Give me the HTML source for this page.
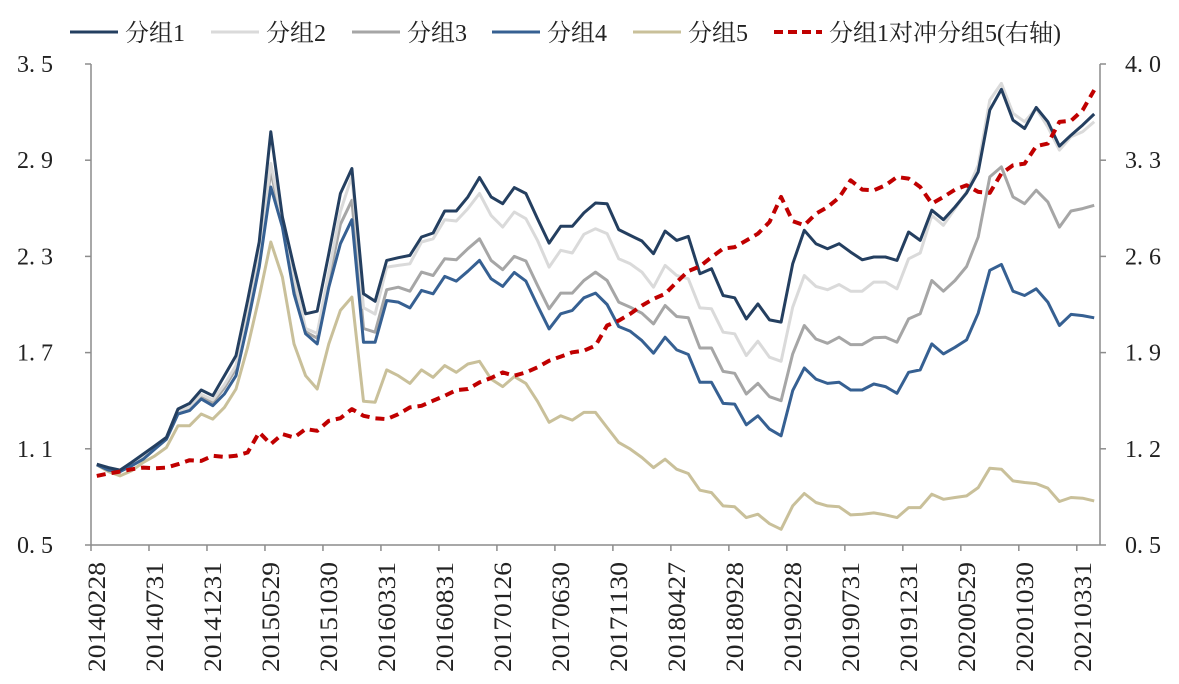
<!DOCTYPE html>
<html><head><meta charset="utf-8">
<style>
html,body{margin:0;padding:0;background:#fff;}
svg{display:block;font-family:"Liberation Serif","Noto Serif CJK SC",serif;}
</style></head>
<body>
<svg id="chart" width="1179" height="684" viewBox="0 0 1179 684" xmlns="http://www.w3.org/2000/svg">
<g id="legend"></g>
<g id="axes"></g>
<g id="series"></g>
</svg>
<script>
const dates=["20140228","20140731","20141231","20150529","20151030","20160331","20160831","20170126","20170630","20171130","20180427","20180928","20190228","20190731","20191231","20200529","20201030","20210331"];
const leftTicks=[0.5,1.1,1.7,2.3,2.9,3.5];
const leftTickLabels=["0. 5","1. 1","1. 7","2. 3","2. 9","3. 5"];
const rightTicks=[0.5,1.2,1.9,2.6,3.3,4.0];
const rightTickLabels=["0. 5","1. 2","1. 9","2. 6","3. 3","4. 0"];
const seriesNames=["分组1","分组2","分组3","分组4","分组5","分组1对冲分组5(右轴)"];
const group1=[1.004,0.983,0.967,1.015,1.067,1.119,1.171,1.348,1.383,1.467,1.431,1.556,1.681,2.025,2.39,3.077,2.546,2.233,1.942,1.958,2.317,2.692,2.848,2.067,2.02,2.275,2.292,2.306,2.421,2.446,2.583,2.583,2.671,2.792,2.671,2.629,2.729,2.692,2.535,2.383,2.488,2.488,2.571,2.633,2.629,2.467,2.431,2.396,2.317,2.458,2.4,2.425,2.192,2.223,2.056,2.042,1.91,2.004,1.904,1.89,2.254,2.463,2.379,2.348,2.379,2.327,2.279,2.296,2.296,2.275,2.452,2.4,2.588,2.529,2.608,2.696,2.827,3.213,3.342,3.15,3.098,3.229,3.14,2.988,3.056,3.119,3.188];
const group2=[1.0,0.975,0.963,1.005,1.055,1.11,1.165,1.335,1.36,1.44,1.405,1.5,1.62,1.98,2.33,2.88,2.52,2.17,1.85,1.82,2.2,2.58,2.8,1.98,1.94,2.233,2.244,2.254,2.39,2.41,2.529,2.521,2.598,2.692,2.556,2.483,2.577,2.535,2.4,2.233,2.338,2.321,2.438,2.473,2.442,2.285,2.254,2.202,2.108,2.244,2.181,2.16,1.979,1.973,1.827,1.817,1.681,1.771,1.671,1.646,1.983,2.181,2.113,2.092,2.125,2.083,2.083,2.14,2.14,2.098,2.285,2.321,2.556,2.494,2.598,2.702,2.869,3.275,3.379,3.192,3.14,3.223,3.108,2.963,3.046,3.077,3.14];
const group3=[1.0,0.97,0.96,1.0,1.05,1.105,1.16,1.32,1.345,1.42,1.39,1.48,1.6,1.93,2.3,2.83,2.5,2.12,1.83,1.79,2.15,2.5,2.65,1.85,1.827,2.092,2.108,2.083,2.202,2.181,2.285,2.279,2.348,2.41,2.275,2.217,2.3,2.271,2.119,1.973,2.071,2.071,2.15,2.202,2.15,2.015,1.983,1.946,1.879,1.994,1.925,1.917,1.729,1.729,1.583,1.571,1.442,1.508,1.425,1.4,1.692,1.869,1.785,1.758,1.796,1.75,1.75,1.792,1.796,1.765,1.91,1.942,2.15,2.083,2.15,2.237,2.421,2.796,2.858,2.671,2.629,2.713,2.64,2.483,2.583,2.598,2.619];
const group4=[1.0,0.967,0.958,0.994,1.035,1.098,1.16,1.317,1.338,1.411,1.369,1.442,1.556,1.879,2.233,2.733,2.483,2.067,1.817,1.754,2.108,2.379,2.529,1.765,1.765,2.025,2.015,1.979,2.088,2.067,2.175,2.146,2.208,2.275,2.16,2.113,2.2,2.146,1.994,1.848,1.942,1.963,2.042,2.071,2.0,1.863,1.833,1.775,1.696,1.796,1.717,1.688,1.515,1.515,1.383,1.379,1.25,1.306,1.223,1.181,1.463,1.604,1.535,1.508,1.515,1.467,1.467,1.504,1.488,1.446,1.577,1.592,1.754,1.692,1.733,1.779,1.946,2.213,2.25,2.083,2.056,2.098,2.015,1.869,1.938,1.931,1.917];
const group5=[1.0,0.958,0.931,0.963,1.015,1.056,1.108,1.244,1.244,1.317,1.285,1.358,1.473,1.733,2.046,2.39,2.171,1.754,1.556,1.473,1.754,1.963,2.046,1.396,1.39,1.592,1.556,1.508,1.592,1.546,1.619,1.577,1.629,1.646,1.535,1.488,1.55,1.508,1.396,1.265,1.306,1.279,1.327,1.327,1.233,1.14,1.098,1.046,0.983,1.035,0.973,0.946,0.842,0.827,0.744,0.738,0.671,0.692,0.633,0.598,0.744,0.821,0.765,0.744,0.738,0.688,0.692,0.7,0.688,0.671,0.733,0.733,0.817,0.785,0.796,0.806,0.858,0.979,0.973,0.9,0.89,0.883,0.854,0.771,0.796,0.792,0.775];
const hedge=[1.003,1.02,1.034,1.051,1.063,1.058,1.063,1.088,1.117,1.112,1.149,1.141,1.149,1.173,1.319,1.234,1.307,1.282,1.343,1.331,1.404,1.423,1.489,1.44,1.422,1.416,1.452,1.501,1.513,1.55,1.586,1.627,1.635,1.683,1.715,1.756,1.732,1.756,1.793,1.841,1.871,1.902,1.914,1.951,2.097,2.133,2.182,2.242,2.291,2.327,2.413,2.493,2.527,2.595,2.656,2.668,2.716,2.765,2.85,3.032,2.857,2.826,2.911,2.959,3.028,3.154,3.086,3.081,3.117,3.178,3.166,3.105,2.984,3.032,3.086,3.117,3.069,3.062,3.203,3.263,3.275,3.402,3.421,3.579,3.587,3.664,3.81];

const NS="http://www.w3.org/2000/svg";
const X0=91,X1=1100,Y0=545,Y1=64;
const N=87,step=(X1-X0)/N;
function xCat(i){return X0+step*(i+0.5);}
function xTick(i){return X0+step*i;}
function yL(v){return Y0-(v-0.5)/(3.5-0.5)*(Y0-Y1);}
function yR(v){return Y0-(v-0.5)/(4.0-0.5)*(Y0-Y1);}
function mk(tag,attrs,parent){const e=document.createElementNS(NS,tag);for(const k in attrs)e.setAttribute(k,attrs[k]);parent.appendChild(e);return e;}
const axes=document.getElementById('axes');
const ser=document.getElementById('series');
const leg=document.getElementById('legend');
const axc="#8c8c8c";

let l=mk('line',{x1:X0,y1:Y1,x2:X0,y2:Y0,stroke:axc,'stroke-width':1.5},axes);


l=mk('line',{x1:X1,y1:Y1,x2:X1,y2:Y0,stroke:axc,'stroke-width':1.5},axes);


l=mk('line',{x1:X0,y1:Y0,x2:X1,y2:Y0,stroke:axc,'stroke-width':1.5},axes);



leftTicks.forEach((v,k)=>{
  const y=yL(v);
  mk('line',{x1:X0-6,y1:y,x2:X0,y2:y,stroke:axc,'stroke-width':1.5},axes);
  const t=mk('text',{x:53,y:y+8,'text-anchor':'end','font-size':24,fill:'#222'},axes);
  t.textContent=leftTickLabels[k];
  
  
});
rightTicks.forEach((v,k)=>{
  const y=yR(v);
  mk('line',{x1:X1,y1:y,x2:X1+6,y2:y,stroke:axc,'stroke-width':1.5},axes);
  const t=mk('text',{x:1125,y:y+8,'text-anchor':'start','font-size':24,fill:'#222'},axes);
  t.textContent=rightTickLabels[k];
  
  
});
dates.forEach((d,k)=>{
  const x=xTick(k*5);
  mk('line',{x1:x,y1:Y0,x2:x,y2:Y0+6,stroke:axc,'stroke-width':1.5},axes);
  const t=mk('text',{x:0,y:0,'text-anchor':'start','font-size':25,fill:'#222',textLength:110,lengthAdjust:'spacingAndGlyphs',transform:`translate(${x+14},672) rotate(-90)`},axes);
  t.textContent=d;
  
  
});

const styles=[
 {data:group1,color:"#243f60",dash:null,w:3,axis:yL,name:'series-group1'},
 {data:group2,color:"#dadada",dash:null,w:3,axis:yL,name:'series-group2'},
 {data:group3,color:"#a6a6a6",dash:null,w:3,axis:yL,name:'series-group3'},
 {data:group4,color:"#366092",dash:null,w:3,axis:yL,name:'series-group4'},
 {data:group5,color:"#c9c09a",dash:null,w:3,axis:yL,name:'series-group5'},
 {data:hedge,color:"#c00000",dash:"9,6",w:4,axis:yR,name:'series-hedge'}
];
const drawOrder=[4,2,1,3,0,5];
drawOrder.forEach(k=>{
  const s=styles[k];
  const pts=s.data.map((v,i)=>xCat(i).toFixed(1)+","+s.axis(v).toFixed(1)).join(" ");
  const p=mk('polyline',{points:pts,fill:'none',stroke:s.color,'stroke-width':s.w,'stroke-linejoin':'round'},ser);
  if(s.dash)p.setAttribute('stroke-dasharray',s.dash);
  
  
});

const legX=[70,211,352,492,633,774];
seriesNames.forEach((n,k)=>{
  const s=styles[k];
  const g=mk('g',{},leg);
  
  
  const ln=mk('line',{x1:legX[k],y1:32,x2:legX[k]+48,y2:32,stroke:s.color,'stroke-width':s.w},g);
  if(s.dash)ln.setAttribute('stroke-dasharray','9,5');
  const t=mk('text',{x:legX[k]+55,y:41,'font-size':24,fill:'#222'},g);
  t.textContent=n;
});
</script>
</body></html>
